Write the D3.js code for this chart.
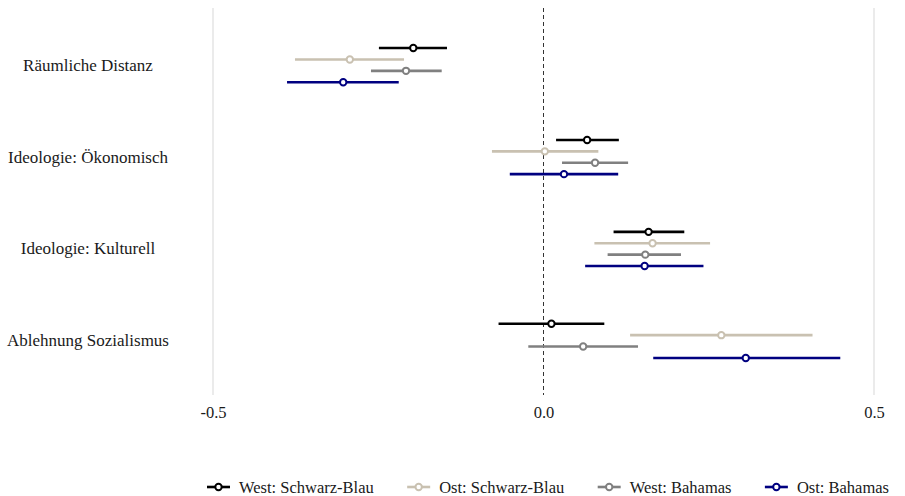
<!DOCTYPE html>
<html>
<head>
<meta charset="utf-8">
<script src="https://cdn.jsdelivr.net/npm/d3@7/dist/d3.min.js"></script>
<style>
  html, body { margin: 0; padding: 0; background: #fff; }
  svg { display: block; font-family: "Liberation Serif", "Times New Roman", serif; }
</style>
</head>
<body>
<svg id="chart" width="905" height="496"></svg>
<script>
// Predictors (top to bottom)
const categories = ["Räumliche Distanz", "Ideologie: Ökonomisch", "Ideologie: Kulturell", "Ablehnung Sozialismus"];

// Groups, in legend order
const groups = ["West: Schwarz-Blau", "Ost: Schwarz-Blau", "West: Bahamas", "Ost: Bahamas"];
const groupColors = ["#000000", "#c9c1b1", "#808080", "#000080"];

// Point estimates per group (one value per predictor)
const estWestSB = [-0.197, 0.066, 0.159, 0.012];
const estOstSB  = [-0.293, 0.002, 0.165, 0.269];
const estWestBa = [-0.208, 0.078, 0.154, 0.060];
const estOstBa  = [-0.303, 0.031, 0.153, 0.306];

// Lower confidence bounds
const loWestSB = [-0.249, 0.019, 0.106, -0.068];
const loOstSB  = [-0.376, -0.078, 0.077, 0.131];
const loWestBa = [-0.261, 0.028, 0.097, -0.023];
const loOstBa  = [-0.388, -0.051, 0.063, 0.166];

// Upper confidence bounds
const hiWestSB = [-0.146, 0.114, 0.213, 0.092];
const hiOstSB  = [-0.211, 0.083, 0.252, 0.407];
const hiWestBa = [-0.154, 0.128, 0.208, 0.143];
const hiOstBa  = [-0.219, 0.113, 0.242, 0.449];

const xTicks = [-0.5, 0, 0.5];
const xTickLabels = ["-0.5", "0.0", "0.5"];

const est = [estWestSB, estOstSB, estWestBa, estOstBa];
const lo  = [loWestSB, loOstSB, loWestBa, loOstBa];
const hi  = [hiWestSB, hiOstSB, hiWestBa, hiOstBa];

const rows = [];
groups.forEach((g, gi) => {
  categories.forEach((c, ci) => {
    rows.push({ group: g, gi, category: c, est: est[gi][ci], lo: lo[gi][ci], hi: hi[gi][ci] });
  });
});

const svg = d3.select("#chart");
const panelTop = 10, panelBottom = 396;
const lineTop = 8, lineBottom = 395;
const textColor = "#1a1a1a";

const x = d3.scaleLinear().domain([-0.5, 0.5]).range([213, 874]);
const y = d3.scaleBand().domain(categories).range([panelTop, panelBottom]).paddingInner(0).paddingOuter(0.1);
const dodge = d3.scaleBand().domain(groups).range([-22.8, 22.8]).padding(0);

// Vertical gridlines at the tick positions
svg.append("g").selectAll("line").data(xTicks.filter(t => t !== 0)).join("line")
  .attr("x1", d => x(d)).attr("x2", d => x(d))
  .attr("y1", lineTop).attr("y2", lineBottom)
  .attr("stroke", "#dedede").attr("stroke-width", 1.2);

// Zero reference line
svg.append("line")
  .attr("x1", x(0)).attr("x2", x(0))
  .attr("y1", lineTop).attr("y2", lineBottom)
  .attr("stroke", "#333").attr("stroke-width", 1)
  .attr("stroke-dasharray", "4,3");

// x axis labels
const xAxis = d3.axisBottom(x).tickValues(xTicks).tickFormat((d, i) => xTickLabels[i]).tickSize(0).tickPadding(0);
const gx = svg.append("g").attr("transform", `translate(0,${lineBottom + 11})`).call(xAxis);
gx.select(".domain").remove();
gx.selectAll("text").attr("font-family", "Liberation Serif, serif").attr("font-size", 16.5).attr("fill", textColor);

// y axis labels (centered)
svg.append("g").selectAll("text").data(categories).join("text")
  .attr("x", 88).attr("y", d => y(d) + y.bandwidth() / 2)
  .attr("text-anchor", "middle").attr("dominant-baseline", "central")
  .attr("font-size", 17).attr("fill", textColor)
  .text(d => d);

const yPos = d => y(d.category) + y.bandwidth() / 2 + dodge(d.group) + dodge.bandwidth() / 2;

// Confidence intervals
svg.append("g").selectAll("line").data(rows).join("line")
  .attr("x1", d => x(d.lo)).attr("x2", d => x(d.hi))
  .attr("y1", yPos).attr("y2", yPos)
  .attr("stroke", d => groupColors[d.gi]).attr("stroke-width", 2.6);

// Point estimates
svg.append("g").selectAll("circle").data(rows).join("circle")
  .attr("cx", d => x(d.est)).attr("cy", yPos).attr("r", 3.2)
  .attr("fill", "#fff").attr("stroke", d => groupColors[d.gi]).attr("stroke-width", 2);

// Legend: keys and labels laid out left to right, spread between two edges
const legend = svg.append("g").attr("transform", "translate(0,487)");
const legendStart = 207, legendEnd = 889, keyW = 23, keyGap = 9;
const items = groups.map((g, gi) => {
  const item = legend.append("g");
  item.append("line").attr("x1", 0).attr("x2", keyW).attr("y1", 0).attr("y2", 0)
    .attr("stroke", groupColors[gi]).attr("stroke-width", 2.6);
  item.append("circle").attr("cx", keyW / 2).attr("cy", 0).attr("r", 3.2)
    .attr("fill", "#fff").attr("stroke", groupColors[gi]).attr("stroke-width", 2);
  const t = item.append("text").attr("x", keyW + keyGap).attr("y", 0).attr("dominant-baseline", "central")
    .attr("font-size", 16.5).attr("fill", textColor).text(g);
  return { item, w: keyW + keyGap + t.node().getComputedTextLength() };
});
const totalW = d3.sum(items, d => d.w);
const spacing = (legendEnd - legendStart - totalW) / (items.length - 1);
let cx = legendStart;
items.forEach(d => {
  d.item.attr("transform", `translate(${cx},0)`);
  cx += d.w + spacing;
});
</script>
</body>
</html>
